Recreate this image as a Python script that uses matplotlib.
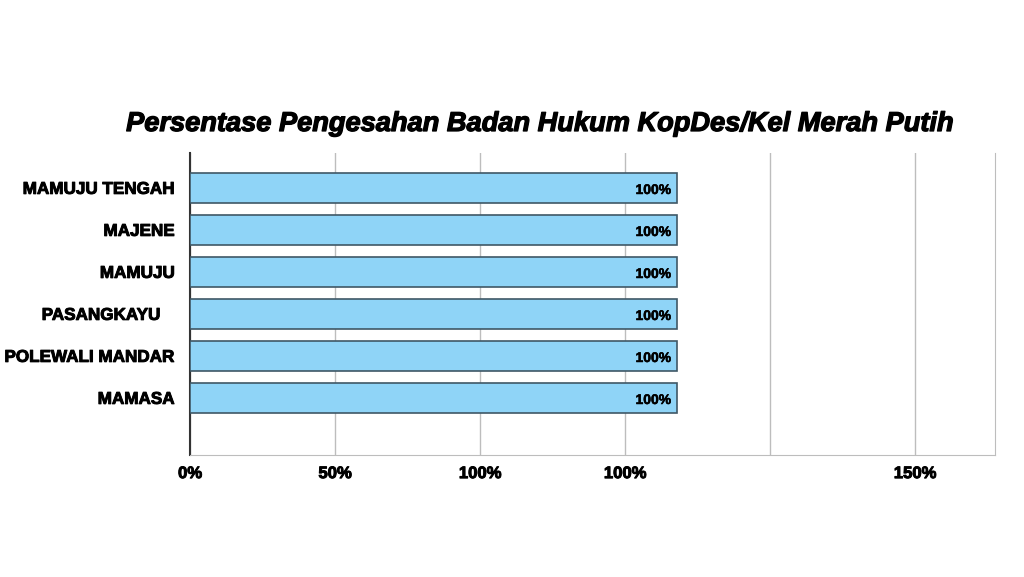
import numpy as np
import matplotlib
matplotlib.use('Agg')
import matplotlib.pyplot as plt
import matplotlib.patheffects as pe
from matplotlib import font_manager

regions = ['MAMUJU TENGAH', 'MAJENE', 'MAMUJU', 'PASANGKAYU   ', 'POLEWALI MANDAR', 'MAMASA']
values = [100, 100, 100, 100, 100, 100]
tick_labels = ['0%', '50%', '100%', '100%', '', '150%']
title = 'Persentase Pengesahan Badan Hukum KopDes/Kel Merah Putih'

names = set(f.name for f in font_manager.fontManager.ttflist)
narrow = 'Liberation Sans Narrow' if 'Liberation Sans Narrow' in names else 'Liberation Sans'
heavy = [pe.withStroke(linewidth=0.7, foreground='black')]

fig = plt.figure(figsize=(10.24, 5.77), dpi=100)
ax = fig.add_axes([190/1024, 1-455/577, 805/1024, 302/577])

y = np.arange(len(regions))
ax.barh(y, values, height=0.71, color='#8fd4f7', edgecolor='#3f5866', linewidth=1.2, zorder=3)
for yi, v in zip(y, values):
    ax.text(v - 1.2, yi + 0.05, f'{v}%', ha='right', va='center', fontsize=10,
            fontweight='bold', family=[narrow, 'DejaVu Sans'], zorder=4,
            path_effects=[pe.withStroke(linewidth=0.4, foreground='black')])

# scale: 100% bar ends at 487 px of 805 px axis; gridlines every 145 px
xmax = 100 * 805 / 487
step = 100 * 145 / 487
ticks = [step * k for k in range(6)]
ax.set_xlim(0, xmax)
ax.set_ylim(len(regions) - 1 + 1.36, -0.83)
ax.set_xticks(ticks)
ax.set_xticklabels(tick_labels, fontsize=12, fontweight='bold', family=[narrow, 'DejaVu Sans'])
ax.set_yticks(y)
ax.set_yticklabels(regions, fontsize=12.3, fontweight='bold', family=['Liberation Sans', 'DejaVu Sans'])
for lab in ax.get_xticklabels() + ax.get_yticklabels():
    lab.set_path_effects(heavy)
ax.tick_params(axis='x', length=0, pad=8)
ax.tick_params(axis='y', length=0, pad=11)
ax.grid(axis='x', color='#bdbdbd', linewidth=1, zorder=0)
ax.spines['top'].set_visible(False)
ax.spines['right'].set_color('#bdbdbd')
ax.spines['bottom'].set_color('#bdbdbd')
ax.spines['left'].set_color('#333333')
ax.spines['left'].set_linewidth(1.5)

fig.text(540/1024, 1-124/577, title, ha='center', va='center', fontsize=19.6,
         fontweight='bold', fontstyle='italic', family=['Liberation Sans', 'DejaVu Sans'],
         path_effects=[pe.withStroke(linewidth=0.9, foreground='black')])

fig.savefig('out.png', dpi=100)
